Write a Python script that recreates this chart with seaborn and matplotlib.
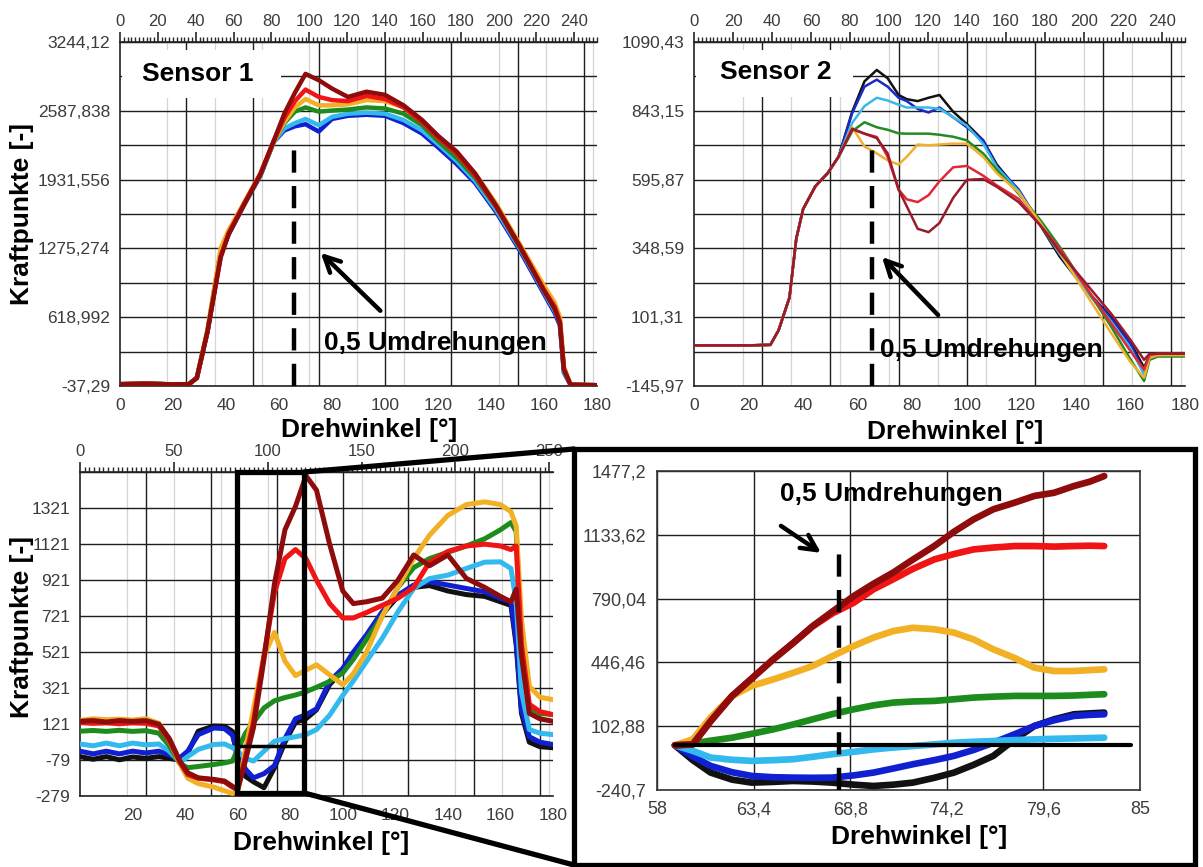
import matplotlib
matplotlib.use("Agg")
import matplotlib.pyplot as plt
from matplotlib.patches import Rectangle, ConnectionPatch
from matplotlib.ticker import MultipleLocator
import seaborn as sns

# ---------------- data ----------------
COLORS = {
    "black": "#111111",
    "blue": "#1020d0",
    "cyan": "#33b9ee",
    "green": "#1c8c1c",
    "orange": "#f2b025",
    "red": "#f01414",
    "darkred": "#8e0c0c",
}
S2_COLORS = {
    "black": "#111111",
    "blue": "#1a2ac8",
    "cyan": "#3ab8e8",
    "green": "#228b22",
    "orange": "#f0b030",
    "red": "#e02838",
    "darkred": "#9a1c2c",
}

# Sensor 1
S1_X = [0, 10, 20, 26, 29, 33, 38, 41, 47, 53, 58, 62, 66, 70, 75, 80, 86, 93, 100, 107,
        114, 120, 127, 134, 142, 151, 160, 164, 166, 167.5, 170, 180]
S1_BLUE = [-20, -15, -22, -20, 40, 480, 1220, 1410, 1700, 1970, 2290, 2400, 2440, 2460, 2390, 2510,
           2540, 2550, 2540, 2470, 2370, 2240, 2080, 1900, 1620, 1250, 840, 660, 540, 90, -25, -30]
S1_CYAN = [-20, -15, -22, -20, 40, 480, 1230, 1420, 1700, 1970, 2290, 2420, 2470, 2510, 2450, 2530,
           2560, 2570, 2560, 2500, 2400, 2270, 2110, 1920, 1640, 1270, 860, 680, 560, 100, -25, -30]
S1_GREEN = [-20, -15, -22, -20, 40, 490, 1250, 1430, 1710, 1980, 2290, 2470, 2580, 2620, 2580, 2590,
            2600, 2620, 2610, 2560, 2450, 2300, 2140, 1950, 1670, 1280, 880, 700, 580, 130, -25, -30]
S1_ORANGE = [-20, -15, -22, -20, 40, 500, 1280, 1450, 1720, 1990, 2290, 2480, 2620, 2700, 2640, 2640,
             2650, 2690, 2680, 2620, 2490, 2340, 2190, 1990, 1700, 1310, 920, 760, 620, 150, -25, -30]
S1_RED = [-20, -15, -22, -20, 40, 480, 1200, 1420, 1710, 1990, 2300, 2520, 2680, 2790, 2720, 2690,
          2680, 2730, 2700, 2620, 2480, 2330, 2180, 1970, 1670, 1290, 880, 720, 580, 130, -25, -30]
S1_DARKRED = [-20, -15, -22, -20, 40, 480, 1190, 1410, 1700, 1980, 2300, 2560, 2760, 2940, 2880, 2800,
              2720, 2770, 2740, 2640, 2500, 2350, 2200, 1990, 1680, 1290, 870, 700, 560, 120, -25, -30]
S1_YTICKS = [-37.29, 618.992, 1275.274, 1931.556, 2587.838, 3244.12]
S1_YLABELS = ["-37,29", "618,992", "1275,274", "1931,556", "2587,838", "3244,12"]

# Sensor 2
S2_X = [0, 10, 20, 28, 31, 35, 37.5, 40, 44.5, 49, 53, 58, 62.5, 67, 71, 75, 78, 82, 86, 90, 95,
        100, 106, 111, 119, 127, 134, 143, 153, 160, 165, 167, 170, 180]
S2_START = [0, 0, 0, 2, 54, 172, 384, 490, 572, 619, 678]
S2_BLACK = S2_START + [840, 949, 990, 960, 900, 885, 878, 890, 900, 840, 796, 737, 650, 555, 431,
                       320, 207, 101, 10, -80, -35, -34, -34]
S2_BLUE = S2_START + [835, 930, 955, 930, 890, 878, 850, 837, 855, 820, 784, 737, 643, 561, 435,
                      330, 210, 95, 5, -95, -40, -34, -34]
S2_CYAN = S2_START + [800, 860, 890, 880, 865, 855, 855, 855, 850, 820, 790, 725, 640, 555, 433,
                      330, 205, 85, -10, -105, -40, -34, -34]
S2_GREEN = S2_START + [770, 802, 784, 775, 762, 761, 761, 761, 757, 750, 737, 690, 631, 545, 450,
                       355, 219, 66, -50, -128, -52, -40, -40]
S2_ORANGE = S2_START + [784, 715, 690, 665, 650, 678, 722, 719, 722, 725, 725, 678, 619, 550, 440,
                        335, 196, 43, -60, -116, -45, -35, -35]
S2_RED = S2_START + [778, 761, 749, 678, 560, 525, 515, 540, 590, 640, 645, 610, 575, 527, 431,
                     349, 219, 78, -20, -87, -35, -30, -30]
S2_DARKRED = S2_START + [778, 761, 745, 690, 560, 500, 419, 407, 440, 530, 595, 598, 570, 515, 431,
                         337, 231, 113, 20, -52, -30, -30, -30]
S2_YTICKS = [-145.97, 101.31, 348.59, 595.87, 843.15, 1090.43]
S2_YLABELS = ["-145,97", "101,31", "348,59", "595,87", "843,15", "1090,43"]

# Sensor 3 (bottom left)
S3_X = [0, 5, 10, 15, 20, 25, 30, 34, 38, 41, 45, 51, 55, 58, 60, 63, 66, 70, 74, 78, 82, 86, 90,
        95, 100, 104, 109, 115, 121, 127, 133, 140, 147, 154, 160, 164, 166, 168, 171, 175, 180]
S3_BLACK = [-60, -75, -60, -78, -62, -70, -60, -70, -80, -40, 81, 110, 108, 80, -80, -170, -200, -233,
            -122, 20, 130, 150, 200, 340, 420, 510, 600, 730, 830, 880, 890, 860, 840, 830, 800, 780,
            560, 180, 20, -5, -11]
S3_BLUE = [-30, -45, -30, -45, -30, -40, -30, -50, -67, -30, 62, 99, 95, 60, -40, -130, -178, -155,
           -110, 40, 150, 173, 205, 358, 430, 520, 616, 745, 837, 893, 911, 893, 874, 856, 819, 800,
           579, 200, 50, 20, 7]
S3_CYAN = [10, 0, 15, 0, 15, 5, 10, -30, -94, -60, -20, 7, 10, -10, -30, -70, -85, -30, 25, 40, 50,
           62, 90, 170, 280, 360, 468, 597, 745, 874, 929, 948, 985, 1020, 1022, 985, 800, 300, 90,
           70, 62]
S3_GREEN = [81, 85, 80, 86, 80, 84, 70, 0, -100, -122, -115, -104, -95, -85, -20, 70, 130, 210, 250,
            268, 282, 300, 325, 358, 405, 480, 590, 720, 880, 990, 1040, 1075, 1110, 1150, 1200, 1240,
            1190, 520, 210, 180, 173]
S3_ORANGE = [140, 150, 145, 148, 143, 150, 125, 30, -100, -180, -210, -230, -250, -265, -250, -20,
             200, 500, 630, 470, 390, 420, 450, 394, 339, 400, 520, 720, 880, 1040, 1170, 1280, 1340,
             1355, 1340, 1300, 1220, 700, 330, 270, 256]
S3_RED = [130, 125, 128, 122, 128, 125, 110, 30, -90, -160, -180, -190, -200, -230, -240, -60, 130,
          500, 850, 1040, 1090, 1040, 920, 790, 710, 710, 740, 780, 820, 880, 1020, 1080, 1110, 1120,
          1110, 1090, 1110, 560, 230, 190, 173]
S3_DARKRED = [136, 140, 132, 140, 135, 140, 120, 40, -85, -150, -178, -187, -196, -225, -245, -80,
              100, 480, 900, 1200, 1330, 1500, 1420, 1120, 860, 790, 800, 820, 920, 1060, 1000, 1060,
              930, 880, 830, 800, 870, 500, 180, 150, 136]
S3_YTICKS = [-279, -79, 121, 321, 521, 721, 921, 1121, 1321]
S3_XLABELS = ["", "20", "40", "60", "80", "100", "120", "140", "160", "180"]

# zoomed detail (bottom right)
Z_X = [59, 60, 61, 62.2, 63.3, 64.5, 65.6, 66.7, 67.8, 69, 70.1, 71.2, 72.3, 73.5, 74.6, 75.7,
       76.8, 78, 79.1, 80.2, 81.3, 82.2, 83]
Z_BLACK = [0, -80, -147, -185, -201, -197, -192, -195, -201, -212, -219, -212, -201, -175, -147,
           -105, -57, 32, 104, 140, 167, 172, 176]
Z_BLUE = [0, -60, -111, -145, -165, -172, -174, -175, -174, -162, -147, -125, -102, -80, -57, -25,
          14, 60, 104, 135, 158, 164, 167]
Z_CYAN = [0, -30, -66, -78, -84, -80, -75, -62, -48, -35, -22, -12, -4, 5, 14, 19, 23, 28, 32, 35,
          37, 39, 41]
Z_GREEN = [0, 10, 25, 41, 62, 86, 112, 140, 168, 194, 215, 230, 236, 239, 248, 257, 262, 266, 266,
           266, 268, 272, 275]
Z_ORANGE = [0, 32, 150, 266, 320, 355, 390, 427, 480, 535, 580, 615, 633, 625, 607, 570, 517, 470,
            418, 400, 400, 405, 409]
Z_RED = [0, 5, 130, 266, 360, 463, 550, 640, 710, 768, 840, 894, 950, 1001, 1030, 1055, 1065, 1073,
         1073, 1070, 1073, 1075, 1073]
Z_DARKRED = [0, 5, 130, 266, 360, 463, 550, 642, 720, 804, 870, 930, 1000, 1073, 1150, 1217, 1271,
             1307, 1343, 1360, 1396, 1420, 1450]
Z_ZERO_X = [59, 84.5]
Z_XTICKS = [58, 63.4, 68.8, 74.2, 79.6, 85]
Z_XLABELS = ["58", "63,4", "68,8", "74,2", "79,6", "85"]
Z_YTICKS = [-240.7, 102.88, 446.46, 790.04, 1133.62, 1477.2]
Z_YLABELS = ["-240,7", "102,88", "446,46", "790,04", "1133,62", "1477,2"]

LABEL_TEXT = "0,5 Umdrehungen"
XLABEL = "Drehwinkel [°]"
YLABEL = "Kraftpunkte [-]"

# ---------------- figure ----------------
sns.set_style("white")
plt.rcParams["font.family"] = ["Liberation Sans", "DejaVu Sans"]

W, H = 1203, 867
fig = plt.figure(figsize=(W / 100, H / 100), dpi=100)


def px_box(x0, y0, x1, y1):
    return [x0 / W, 1 - y1 / H, (x1 - x0) / W, (y1 - y0) / H]


TICK_COLOR = "#3c3c3c"
BOLD = dict(fontsize=19, fontweight="bold", color="black")


def draw_lines(ax, x, series, palette, lw):
    for name, y in series:
        sns.lineplot(x=x, y=y, ax=ax, color=palette[name], lw=lw, sort=False,
                     estimator=None, legend=False, zorder=3)
    ax.set_xlabel("")
    ax.set_ylabel("")


def style_overview(ax, yticks, ylabels, half_grid, top_step, top_minor, bottom_labels=None):
    ax.set_xlim(0, 180)
    ax.set_ylim(yticks[0], yticks[-1])
    ax.set_yticks(yticks)
    ax.set_yticklabels(ylabels)
    ax.set_xticks(range(0, 181, 20))
    if bottom_labels is not None:
        ax.set_xticklabels(bottom_labels)
    ax.xaxis.set_minor_locator(MultipleLocator(2))
    ax.tick_params(axis="x", which="major", direction="out", length=7, width=1.2,
                   labelsize=12.5, labelcolor=TICK_COLOR, pad=2)
    ax.tick_params(axis="x", which="minor", direction="out", length=3.5, width=1)
    ax.tick_params(axis="y", which="major", direction="out", length=5, width=1,
                   labelsize=12.5, labelcolor=TICK_COLOR, pad=2)
    for side in ["left", "bottom", "top"]:
        ax.spines[side].set_color("#222222")
        ax.spines[side].set_linewidth(1.2)
    ax.spines["right"].set_visible(False)
    ax.grid(False)
    # horizontal grid
    grid_y = list(yticks)
    if half_grid:
        grid_y += [(a + b) / 2 for a, b in zip(yticks[:-1], yticks[1:])]
    for gy in grid_y:
        ax.axhline(gy, color="#1e1e1e", lw=1.0, zorder=1)
    # faint lines every 25 units of the upper scale, strong lines every 25 degrees
    for k in range(1, 11):
        ax.axvline(k * 25 / 1.4, color="#d4d4d4", lw=0.9, zorder=0.5)
    for k in range(1, 8):
        ax.axvline(k * 25, color="#1e1e1e", lw=1.0, zorder=1)
    sec = ax.secondary_xaxis("top", functions=(lambda v: v * 1.4, lambda t: t / 1.4))
    sec.set_xticks(range(0, 251, top_step))
    sec.xaxis.set_minor_locator(MultipleLocator(top_minor))
    sec.tick_params(which="major", direction="out", length=7, width=1.2, labelsize=12,
                    labelcolor=TICK_COLOR, pad=2)
    sec.tick_params(which="minor", direction="out", length=3.5, width=1)
    sec.spines["top"].set_color("#222222")
    return sec


def mark(ax, x, y0, y1, tail, head):
    ax.plot([x, x], [y0, y1], color="black", lw=3.2, linestyle=(0, (5, 3)), zorder=5,
            solid_capstyle="butt", dash_capstyle="butt")
    ax.annotate("", xy=head, xytext=tail,
                arrowprops=dict(arrowstyle="->", lw=3.2, color="black", mutation_scale=28),
                zorder=6)


# ---- Sensor 1 ----
ax1 = fig.add_axes(px_box(120, 42, 597, 386))
draw_lines(ax1, S1_X, [("blue", S1_BLUE), ("cyan", S1_CYAN), ("green", S1_GREEN),
                       ("orange", S1_ORANGE), ("red", S1_RED), ("darkred", S1_DARKRED)],
           COLORS, 3.2)
style_overview(ax1, S1_YTICKS, S1_YLABELS, True, 20, 2)
ax1.add_patch(Rectangle((0.004, 0.837), 0.334, 0.14, transform=ax1.transAxes,
                        facecolor="white", edgecolor="none", zorder=4))
ax1.text(0.164, 0.907, "Sensor 1", transform=ax1.transAxes, ha="center", va="center",
         zorder=5, **BOLD)
mark(ax1, 65.8, S1_YTICKS[0], 2316, (99, 662), (75, 1251))
ax1.text(119, 376, LABEL_TEXT, ha="center", va="center", zorder=6, **BOLD)

# ---- Sensor 2 ----
ax2 = fig.add_axes(px_box(694, 42, 1185, 386))
draw_lines(ax2, S2_X, [("black", S2_BLACK), ("blue", S2_BLUE), ("cyan", S2_CYAN),
                       ("green", S2_GREEN), ("orange", S2_ORANGE), ("red", S2_RED),
                       ("darkred", S2_DARKRED)], S2_COLORS, 1.8)
style_overview(ax2, S2_YTICKS, S2_YLABELS, True, 20, 2)
ax2.add_patch(Rectangle((0.004, 0.84), 0.32, 0.137, transform=ax2.transAxes,
                        facecolor="white", edgecolor="none", zorder=4))
ax2.text(0.167, 0.913, "Sensor 2", transform=ax2.transAxes, ha="center", va="center",
         zorder=5, **BOLD)
mark(ax2, 65.3, S2_YTICKS[0], 717, (90.2, 102), (68.2, 325))
ax2.text(109, -17, LABEL_TEXT, ha="center", va="center", zorder=6, **BOLD)

# ---- overview bottom left ----
ax3 = fig.add_axes(px_box(80, 472, 553, 796))
draw_lines(ax3, S3_X, [("black", S3_BLACK), ("blue", S3_BLUE), ("cyan", S3_CYAN),
                       ("green", S3_GREEN), ("orange", S3_ORANGE), ("red", S3_RED),
                       ("darkred", S3_DARKRED)], COLORS, 3.6)
style_overview(ax3, S3_YTICKS + [1521], [str(v) for v in S3_YTICKS] + [""], False, 50, 2.5,
               bottom_labels=S3_XLABELS)
ax3.add_patch(Rectangle((59.8, -262), 25.5, 1783, facecolor="none", edgecolor="black",
                        lw=3.8, zorder=7, clip_on=False))
ax3.plot([59.8, 85.3], [0, 0], color="black", lw=2.5, zorder=7)

# ---- zoomed detail ----
ax4 = fig.add_axes(px_box(657, 471, 1140, 790))
draw_lines(ax4, Z_X, [("black", Z_BLACK), ("blue", Z_BLUE), ("cyan", Z_CYAN),
                      ("green", Z_GREEN), ("orange", Z_ORANGE), ("red", Z_RED),
                      ("darkred", Z_DARKRED)], COLORS, 4.8)
ax4.plot(Z_ZERO_X, [0, 0], color="black", lw=3, zorder=6)
ax4.set_xlim(Z_XTICKS[0], Z_XTICKS[-1])
ax4.set_ylim(Z_YTICKS[0], Z_YTICKS[-1])
ax4.set_xticks(Z_XTICKS)
ax4.set_xticklabels(Z_XLABELS)
ax4.set_yticks(Z_YTICKS)
ax4.set_yticklabels(Z_YLABELS)
ax4.tick_params(direction="out", length=5, width=1, labelsize=13, labelcolor=TICK_COLOR, pad=3)
ax4.grid(True, color="#1e1e1e", lw=1.0)
ax4.set_axisbelow(True)
for sp in ax4.spines.values():
    sp.set_color("#333333")
    sp.set_linewidth(1.2)
mark(ax4, 68.17, Z_YTICKS[0], 1055, (64.8, 1190), (67.3, 1028))
ax4.text(71.1, 1351, LABEL_TEXT, ha="center", va="center", zorder=6, **BOLD)

# ---- frame around the detail and connectors ----
fig.patches.append(Rectangle((574 / W, 1 - 865 / H), (1195 - 574) / W, (865 - 449) / H,
                             transform=fig.transFigure, facecolor="none", edgecolor="black",
                             lw=3.8, zorder=8))
for ya, yb in [(1521, 449), (-262, 865)]:
    con = ConnectionPatch(xyA=(85.3, ya), coordsA=ax3.transData,
                          xyB=(574 / W, 1 - yb / H), coordsB=fig.transFigure,
                          color="black", lw=3.8, zorder=8)
    fig.add_artist(con)

# ---- axis titles ----
for (x, y) in [(369, 430), (955, 432), (321, 843), (919, 837)]:
    fig.text(x / W, 1 - y / H, XLABEL, ha="center", va="center", **BOLD)
for (x, y) in [(22, 214), (22, 627)]:
    fig.text(x / W, 1 - y / H, YLABEL, ha="center", va="center", rotation=90, **BOLD)

fig.savefig("out.png", dpi=100)
